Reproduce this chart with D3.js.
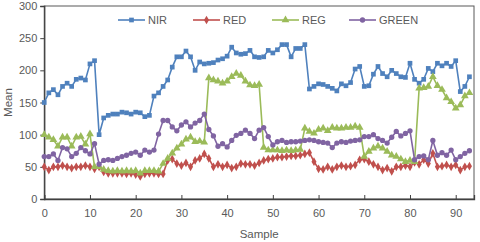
<!DOCTYPE html>
<html lang="en">
<head>
<meta charset="UTF-8">
<title>Mean per sample</title>
<script src="https://d3js.org/d3.v7.min.js"></script>
<style>
  body { margin: 0; background: #fff; }
  svg text { font-family: "Liberation Sans", Arial, sans-serif; fill: #595959; }
</style>
</head>
<body>
<svg id="chart" width="480" height="242"></svg>
<script>
// data (sample index 0..93)
const nir = [150,165,170,162,175,180,175,186,188,185,210,215,100,126,130,132,132,135,134,132,
  135,134,128,130,160,165,175,185,205,221,221,230,221,200,213,210,211,212,216,218,
  222,236,227,225,226,231,221,220,221,231,227,232,240,240,221,234,234,240,171,175,
  179,178,175,172,168,179,176,181,202,206,175,176,194,206,195,190,200,195,190,189,
  211,186,180,186,203,198,211,207,211,206,215,167,175,190];
const red = [50,45,50,50,52,50,48,50,50,52,50,47,50,42,40,40,40,40,39,40,
  38,35,39,40,40,39,39,60,62,55,52,56,50,60,63,70,63,50,54,50,
  53,48,50,55,54,54,52,56,60,62,63,65,65,66,67,67,68,70,72,58,
  47,46,50,46,50,52,50,51,53,61,62,58,54,50,45,48,43,50,50,52,
  50,57,54,61,55,71,50,51,53,50,53,45,50,51];
const reg = [100,96,92,82,96,96,82,96,97,85,101,50,50,46,44,43,44,43,44,43,
  44,40,44,44,44,43,55,63,71,79,85,93,96,89,90,88,188,185,183,180,
  183,190,195,192,183,177,176,178,80,76,76,76,75,76,75,76,77,110,105,102,
  108,110,106,111,110,110,111,111,113,111,66,74,79,82,79,74,68,66,62,58,
  60,58,172,173,175,190,176,170,157,151,141,146,160,165];
const green = [66,66,70,60,80,78,66,71,80,75,70,86,54,60,61,60,63,66,68,71,
  73,68,76,73,76,101,122,122,112,106,115,120,112,118,122,132,108,98,82,86,
  81,91,99,102,107,102,94,107,111,97,84,89,91,88,89,89,90,91,92,91,
  89,88,87,80,87,89,88,90,91,92,97,97,100,94,91,87,96,105,98,102,
  106,61,66,67,61,91,68,72,68,76,61,66,71,75];

const seriesNames = ["NIR", "RED", "REG", "GREEN"];
const seriesColors = ["#4F81BD", "#C0504D", "#9BBB59", "#8064A2"];
const seriesSymbols = [d3.symbolSquare, d3.symbolDiamond, d3.symbolTriangle, d3.symbolCircle];
const seriesData = [nir, red, reg, green];
const xTicks = [0, 10, 20, 30, 40, 50, 60, 70, 80, 90];
const yTicks = [0, 50, 100, 150, 200, 250, 300];

const svg = d3.select("#chart");
const plotL = 44.25, plotR = 474, plotT = 6, plotB = 199;

const x = d3.scaleLinear().domain([0, 94]).range([plotL, plotR]);
const y = d3.scaleLinear().domain([0, 300]).range([plotB, plotT]);

// plot frame
svg.append("rect")
  .attr("x", plotL).attr("y", plotT)
  .attr("width", plotR - plotL).attr("height", plotB - plotT)
  .attr("fill", "none").attr("stroke", "#595959").attr("stroke-width", 1);

// axes
const yAxis = svg.append("g")
  .attr("transform", `translate(${plotL},0)`)
  .call(d3.axisLeft(y).tickValues(yTicks).tickSize(4).tickPadding(3));
const xAxis = svg.append("g")
  .attr("transform", `translate(0,${plotB})`)
  .call(d3.axisBottom(x).tickValues(xTicks).tickSize(-4).tickPadding(10));

[xAxis, yAxis].forEach(g => {
  g.select(".domain").attr("stroke", "#404040").attr("stroke-width", 1.3);
  g.selectAll(".tick line").attr("stroke", "#404040");
  g.selectAll(".tick text").attr("font-size", "11px").attr("fill", "#595959");
});

// axis titles
svg.append("text")
  .attr("x", (plotL + plotR) / 2).attr("y", 238)
  .attr("text-anchor", "middle").attr("font-size", "11.5px")
  .text("Sample");
svg.append("text")
  .attr("transform", `translate(12,${(plotT + plotB) / 2}) rotate(-90)`)
  .attr("text-anchor", "middle").attr("font-size", "11.5px")
  .text("Mean");

// lines + markers
const line = d3.line().x((d, i) => x(i)).y(d => y(d));

seriesData.forEach((vals, k) => {
  svg.append("path")
    .datum(vals)
    .attr("fill", "none")
    .attr("stroke", seriesColors[k])
    .attr("stroke-width", 1.6)
    .attr("d", line);

  const sym = d3.symbol().type(seriesSymbols[k]).size(k === 2 ? 26 : 22);
  svg.append("g").selectAll("path")
    .data(vals)
    .enter().append("path")
    .attr("transform", (d, i) => `translate(${x(i)},${y(d)})`)
    .attr("d", sym)
    .attr("fill", seriesColors[k]);
});

// legend
const legendX = [118, 193, 272, 349];
const legend = svg.append("g");
seriesNames.forEach((name, k) => {
  const lx = legendX[k], ly = 20;
  legend.append("line")
    .attr("x1", lx).attr("x2", lx + 27)
    .attr("y1", ly).attr("y2", ly)
    .attr("stroke", seriesColors[k]).attr("stroke-width", 1.6);
  legend.append("path")
    .attr("transform", `translate(${lx + 13.5},${ly})`)
    .attr("d", d3.symbol().type(seriesSymbols[k]).size(k === 2 ? 26 : 22))
    .attr("fill", seriesColors[k]);
  legend.append("text")
    .attr("x", lx + 30).attr("y", ly + 4)
    .attr("font-size", "11px")
    .text(name);
});
</script>
</body>
</html>
